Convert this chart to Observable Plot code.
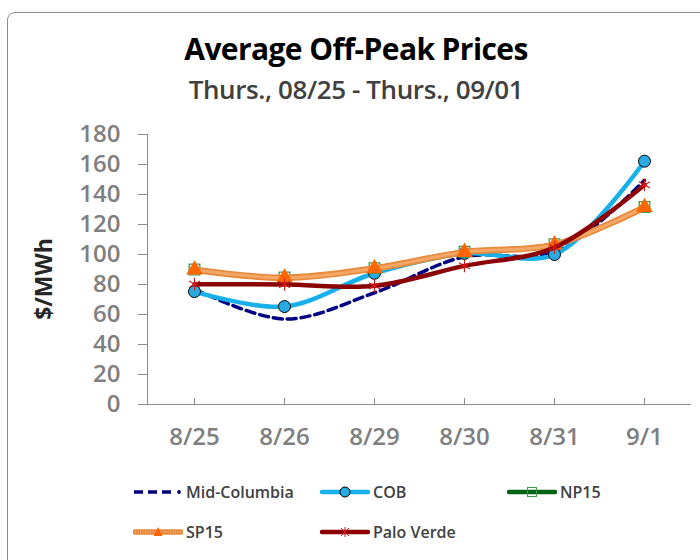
<!DOCTYPE html>
<html><head><meta charset="utf-8">
<script src="https://cdn.jsdelivr.net/npm/d3@7"></script>
<script src="https://cdn.jsdelivr.net/npm/@observablehq/plot@0.6"></script>
<style>
body{margin:0;background:#fff;}
#wrap{position:relative;width:700px;height:560px;overflow:hidden;font-family:"Open Sans",sans-serif;}
#border{position:absolute;left:7px;top:12px;width:720px;height:580px;border:1px solid #8c8c8c;border-radius:8px;box-sizing:border-box;}
#title{position:absolute;left:0;width:712px;top:31px;text-align:center;font-weight:700;font-size:30px;line-height:36px;color:#000;letter-spacing:-0.6px;}
#subtitle{position:absolute;left:0;width:712px;top:73px;text-align:center;font-weight:600;font-size:26px;line-height:32px;color:#404040;letter-spacing:-0.4px;}
#chart{position:absolute;left:0;top:100px;}
#ylab{position:absolute;left:43px;top:279px;transform:translate(-50%,-50%) rotate(-90deg);font-weight:700;font-size:23px;color:#262626;white-space:nowrap;}
.li{position:absolute;display:flex;align-items:center;font-size:16px;font-weight:600;color:#404040;transform:translateY(-50%);}
.li svg{margin-right:3px;}
</style></head>
<body><div id="wrap">
<div id="border"></div>
<div id="title">Average Off-Peak Prices</div>
<div id="subtitle">Thurs., 08/25 - Thurs., 09/01</div>
<div id="chart"></div>
<div id="ylab">$/MWh</div>
<div id="legend"></div>
</div>
<script>
const dates = ["8/25","8/26","8/29","8/30","8/31","9/1"];
const yTicks = [0,20,40,60,80,100,120,140,160,180];
const seriesNames = ["Mid-Columbia","COB","NP15","SP15","Palo Verde"];
const midColumbia = [77, 57, 74.5, 98.5, 101.5, 149.5];
const cob = [75.3, 65.3, 87.5, 100.7, 100, 162.2];
const np15 = [90, 84.7, 90.9, 101.8, 106.9, 131.7];
const sp15 = [89.8, 84.5, 90.7, 101.6, 106.6, 131.5];
const paloVerde = [80.2, 80, 79.1, 92.4, 104.7, 146.4];

const valuesBySeries = {"Mid-Columbia": midColumbia, "COB": cob, "NP15": np15, "SP15": sp15, "Palo Verde": paloVerde};
const rows = seriesNames.flatMap(s => dates.map((d, i) => ({series: s, date: d, value: valuesBySeries[s][i]})));
const of = s => rows.filter(r => r.series === s);

const FONT = '"Open Sans",sans-serif';
const chart = Plot.plot({
  width: 700, height: 360,
  marginLeft: 147, marginRight: 9, marginTop: 34, marginBottom: 56,
  style: {fontFamily: FONT, background: "transparent", color: "#808080"},
  x: {type: "point", domain: dates, padding: 0.5, label: null},
  y: {domain: [0, 180], label: null},
  marks: [
    Plot.frame({anchor: "left", stroke: "#8c8c8c"}),
    Plot.ruleY([0], {stroke: "#8c8c8c"}),
    Plot.axisY({ticks: yTicks, tickSize: 9, tickPadding: 18, fontSize: 24, fontWeight: 600, fill: "#7f7f7f", stroke: "#8c8c8c", label: null}),
    Plot.axisX({tickSize: 6, dy: -6, text: null, stroke: "#8c8c8c", label: null}),
    Plot.axisX({tickSize: 0, tickPadding: 23, fontSize: 24, fontWeight: 600, fill: "#7f7f7f", label: null}),
    // Mid-Columbia
    Plot.line(of("Mid-Columbia"), {x: "date", y: "value", curve: "catmull-rom", stroke: "#000080", strokeWidth: 3.5, strokeDasharray: "9,5"}),
    // COB
    Plot.line(of("COB"), {x: "date", y: "value", curve: "catmull-rom", stroke: "#17b0ea", strokeWidth: 4.5}),
    Plot.dot(of("COB"), {x: "date", y: "value", r: 6, fill: "#29abe2", stroke: "#000", strokeWidth: 1}),
    // NP15
    Plot.line(of("NP15"), {x: "date", y: "value", curve: "catmull-rom", stroke: "#006414", strokeWidth: 4.5}),
    Plot.dot(of("NP15"), {x: "date", y: "value", symbol: "square", r: 6, fill: "none", stroke: "#3f9a45", strokeWidth: 1.3}),
    // SP15
    Plot.line(of("SP15"), {x: "date", y: "value", curve: "catmull-rom", stroke: "#e88a3c", strokeWidth: 6.5}),
    Plot.line(of("SP15"), {x: "date", y: "value", curve: "catmull-rom", stroke: "#f4a867", strokeWidth: 3, strokeDasharray: "1,1.5"}),
    Plot.dot(of("SP15"), {x: "date", y: "value", symbol: "triangle", r: 5.2, fill: "#ff6600", stroke: "#ff6600"}),
    // Palo Verde
    Plot.line(of("Palo Verde"), {x: "date", y: "value", curve: "catmull-rom", stroke: "#8b0000", strokeWidth: 4.5}),
    Plot.dot(of("Palo Verde"), {x: "date", y: "value", symbol: "asterisk", r: 6, stroke: "#d81818", strokeWidth: 1.1})
  ]
});
document.getElementById("chart").appendChild(chart);

// Legend
const legendItems = [
  {name: "Mid-Columbia", x: 133, y: 492},
  {name: "COB", x: 320, y: 492},
  {name: "NP15", x: 507, y: 492},
  {name: "SP15", x: 133, y: 532},
  {name: "Palo Verde", x: 320, y: 532}
];
function swatch(name) {
  const w = 50, h = 18, c = h / 2;
  switch (name) {
    case "Mid-Columbia": return `<svg width="${w}" height="${h}"><line x1="1" x2="41" y1="${c}" y2="${c}" stroke="#000080" stroke-width="3.5" stroke-dasharray="9,5"/><circle cx="46" cy="${c}" r="1.9" fill="#000080"/></svg>`;
    case "COB": return `<svg width="${w}" height="${h}"><line x1="2" x2="48" y1="${c}" y2="${c}" stroke="#17b0ea" stroke-width="4.5" stroke-linecap="round"/><circle cx="25" cy="${c}" r="5" fill="#29abe2" stroke="#000"/></svg>`;
    case "NP15": return `<svg width="${w}" height="${h}"><line x1="2" x2="48" y1="${c}" y2="${c}" stroke="#006414" stroke-width="4.5" stroke-linecap="round"/><rect x="20.5" y="${c-4.5}" width="9" height="9" fill="none" stroke="#3f9a45"/></svg>`;
    case "SP15": return `<svg width="${w}" height="${h}"><line x1="2" x2="48" y1="${c}" y2="${c}" stroke="#e88a3c" stroke-width="5.5" stroke-linecap="round"/><line x1="2" x2="48" y1="${c}" y2="${c}" stroke="#f4a867" stroke-width="2.5" stroke-dasharray="1,1.5"/><path d="M25,${c-5} L29.5,${c+4} L20.5,${c+4} Z" fill="#ff6600"/></svg>`;
    case "Palo Verde": return `<svg width="${w}" height="${h}"><line x1="2" x2="48" y1="${c}" y2="${c}" stroke="#8b0000" stroke-width="4.5" stroke-linecap="round"/><path d="M21,${c-4} L29,${c+4} M29,${c-4} L21,${c+4} M25,${c-5} L25,${c+5}" stroke="#d81818" stroke-width="1"/></svg>`;
  }
}
document.getElementById("legend").innerHTML = legendItems.map(it =>
  `<div class="li" style="left:${it.x}px;top:${it.y}px">${swatch(it.name)}<span>${it.name}</span></div>`).join("");
</script>
</body></html>
